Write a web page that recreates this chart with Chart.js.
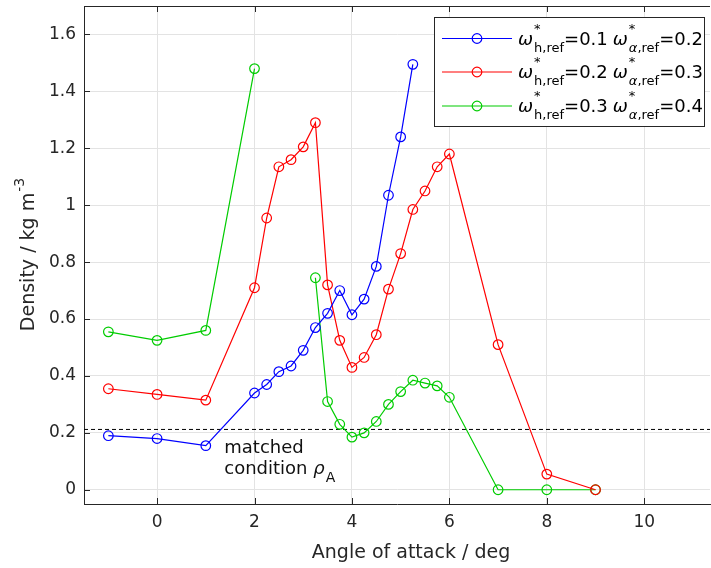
<!DOCTYPE html>
<html><head><meta charset="utf-8">
<script src="https://cdn.jsdelivr.net/npm/chart.js@4/dist/chart.umd.min.js"></script>
<style>html,body{margin:0;padding:0;background:#fff;overflow:hidden}#wrap{width:711px;height:568px;overflow:hidden}</style>
</head><body><div id="wrap"><canvas id="c" width="716" height="568"></canvas></div>
<script>
const angles = [-1,0,1,2,2.25,2.5,2.75,3,3.25,3.5,3.75,4,4.25,4.5,4.75,5,5.25,5.5,5.75,6,7,8,9];
const densityBlue  = [0.19,0.18,0.155,0.34,0.37,0.415,0.435,0.49,0.57,0.62,0.70,0.615,0.67,0.785,1.035,1.24,1.495,null,null,null,null,null,null];
const densityRed   = [0.355,0.335,0.315,0.71,0.955,1.135,1.16,1.205,1.29,0.72,0.525,0.43,0.465,0.545,0.705,0.83,0.985,1.05,1.135,1.18,0.51,0.055,0];
const densityGreen = [0.555,0.525,0.56,1.48,null,null,null,null,0.745,0.31,0.23,0.185,0.2,0.24,0.30,0.345,0.385,0.375,0.365,0.325,0,0,0];
const matchedRho = 0.212;
const seriesLabels = [
  {h:'0.1', a:'0.2'},
  {h:'0.2', a:'0.3'},
  {h:'0.3', a:'0.4'}
];
const colors = ['#0000ff','#ff0000','#00cc00'];
const xTicks = [0,2,4,6,8,10];
const yTicks = [0,0.2,0.4,0.6,0.8,1,1.2,1.4,1.6];

const FONT = '"DejaVu Sans", sans-serif';
const TXT = '#262626';

function pts(vals){ return angles.map((a,i)=>({x:a,y:vals[i]})); }
function ds(vals,col){
  return {data:pts(vals),borderColor:col,backgroundColor:'rgba(0,0,0,0)',borderWidth:1.2,
    pointRadius:4.8,pointHoverRadius:4.8,pointBorderWidth:1.2,pointBackgroundColor:'rgba(0,0,0,0)',
    pointBorderColor:col,tension:0,spanGaps:false};
}
function zeroPad(s){ s.paddingTop=0; s.paddingBottom=0; s.paddingLeft=0; s.paddingRight=0; }

const customDraw = {
  id:'customDraw',
  afterDraw(chart){
    const ctx = chart.ctx, a = chart.chartArea, xs = chart.scales.x, ys = chart.scales.y;
    ctx.save();
    ctx.strokeStyle = TXT; ctx.lineWidth = 1;
    ctx.beginPath(); ctx.moveTo(a.left, a.top+0.5); ctx.lineTo(a.right, a.top+0.5); ctx.stroke();
    ctx.beginPath();
    xTicks.forEach(v=>{ const p=Math.round(xs.getPixelForValue(v))+0.5;
      ctx.moveTo(p,a.bottom); ctx.lineTo(p,a.bottom-6);
      ctx.moveTo(p,a.top); ctx.lineTo(p,a.top+6); });
    yTicks.forEach(v=>{ const p=Math.round(ys.getPixelForValue(v))+0.5;
      ctx.moveTo(a.left,p); ctx.lineTo(a.left+6,p); });
    ctx.stroke();

    ctx.fillStyle = TXT; ctx.textBaseline='alphabetic';
    ctx.font = '19px '+FONT; ctx.textAlign='center';
    ctx.fillText('Angle of attack / deg', 411, 558);
    ctx.save();
    ctx.translate(34, 255); ctx.rotate(-Math.PI/2);
    const main = 'Density / kg m';
    ctx.font = '14px '+FONT; const supW = ctx.measureText('-3').width;
    ctx.font = '19px '+FONT; const mw = ctx.measureText(main).width;
    const tot = mw + supW;
    ctx.textAlign='left';
    ctx.fillText(main, -tot/2, 0);
    ctx.font = '14px '+FONT;
    ctx.fillText('-3', -tot/2+mw+1, -10);
    ctx.restore();

    ctx.font = '18px '+FONT; ctx.textAlign='left'; ctx.fillStyle='#111';
    const ax = xs.getPixelForValue(1.38);
    ctx.fillText('matched', ax, 453);
    ctx.fillText('condition', ax, 474);
    const cw = ctx.measureText('condition ').width;
    ctx.font = 'italic 18px '+FONT;
    ctx.fillText('\u03C1', ax+cw, 474);
    const rw = ctx.measureText('\u03C1').width;
    ctx.font = '14px '+FONT;
    ctx.fillText('A', ax+cw+rw+1, 482);

    const L=434, T=17, R=704, B=126;
    ctx.fillStyle='#fff'; ctx.fillRect(L,T,R-L,B-T);
    ctx.strokeStyle=TXT; ctx.lineWidth=1; ctx.strokeRect(L+0.5,T+0.5,R-L,B-T);
    const rows=[38.5,72,106];
    seriesLabels.forEach((s,i)=>{
      const y=rows[i];
      ctx.strokeStyle=colors[i]; ctx.lineWidth=1.2;
      ctx.beginPath(); ctx.moveTo(442,y); ctx.lineTo(512,y); ctx.stroke();
      ctx.beginPath(); ctx.arc(477,y,4.8,0,Math.PI*2); ctx.stroke();
      ctx.fillStyle='#000';
      let x=518; const base=y+6;
      const seg=(omSub,val)=>{
        ctx.font='italic 18px '+FONT; ctx.fillText('\u03C9',x,base); x+=ctx.measureText('\u03C9').width+1;
        ctx.font='13px '+FONT; ctx.fillText('*',x,base-12);
        const sw=ctx.measureText(omSub.rest).width;
        if(omSub.greek){ ctx.font='italic 13px '+FONT; ctx.fillText(omSub.greek,x,base+7);
          const gw=ctx.measureText(omSub.greek).width; ctx.font='13px '+FONT; ctx.fillText(omSub.rest,x+gw,base+7); x+=gw+sw; }
        else { ctx.fillText(omSub.rest,x,base+7); x+=sw; }
        ctx.font='18px '+FONT; ctx.fillText('='+val,x,base); x+=ctx.measureText('='+val).width+5;
      };
      seg({rest:'h,ref'}, s.h);
      seg({greek:'\u03B1', rest:',ref'}, s.a);
    });
    ctx.restore();
  }
};

new Chart(document.getElementById('c'),{
  type:'line',
  data:{datasets:[
    ds(densityBlue,colors[0]), ds(densityRed,colors[1]), ds(densityGreen,colors[2]),
    {data:[{x:-1.5,y:matchedRho},{x:11.35,y:matchedRho}],borderColor:'#000',borderWidth:1,borderDash:[4,3],pointRadius:0,tension:0}
  ]},
  options:{
    responsive:false, animation:false, devicePixelRatio:1,
    layout:{padding:{top:4,right:0,left:0,bottom:0}},
    plugins:{legend:{display:false},tooltip:{enabled:false}},
    scales:{
      x:{type:'linear',min:-1.5,max:11.35,
        afterFit(s){s.height=64; zeroPad(s);},
        afterBuildTicks(s){s.ticks=xTicks.map(v=>({value:v}));},
        ticks:{font:{family:FONT,size:17},color:TXT,padding:8,maxRotation:0,callback:v=>String(v)},
        grid:{color:'#e3e3e3',lineWidth:1,drawTicks:false},
        border:{display:true,color:TXT,width:1}},
      y:{type:'linear',min:-0.05,max:1.7,
        afterFit(s){s.width=84; zeroPad(s);},
        afterBuildTicks(s){s.ticks=yTicks.map(v=>({value:v}));},
        ticks:{font:{family:FONT,size:17},color:TXT,padding:8,callback:v=>String(+v.toFixed(1))},
        grid:{color:'#e3e3e3',lineWidth:1,drawTicks:false},
        border:{display:true,color:TXT,width:1}}
    }
  },
  plugins:[customDraw]
});
</script></body></html>
